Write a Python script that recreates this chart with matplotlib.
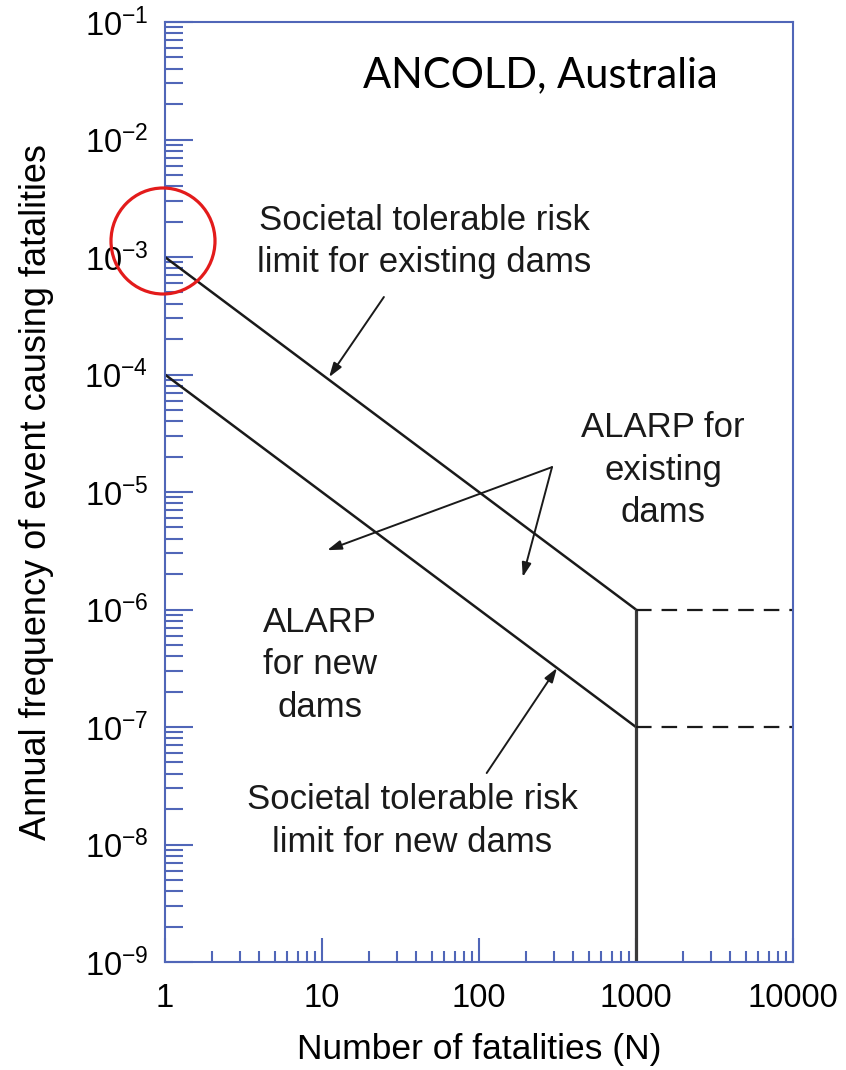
import numpy as np
import matplotlib
matplotlib.use("Agg")
import matplotlib.pyplot as plt
from matplotlib.ticker import LogLocator, FixedLocator, FixedFormatter, NullFormatter
from matplotlib.patches import Ellipse

plt.rcParams['font.family'] = ['Liberation Sans', 'DejaVu Sans']
plt.rcParams['mathtext.fontset'] = 'custom'
plt.rcParams['mathtext.rm'] = 'Liberation Sans'
plt.rcParams['mathtext.it'] = 'Liberation Sans:italic'
plt.rcParams['mathtext.bf'] = 'Liberation Sans:bold'

# ANCOLD societal risk criteria (F-N)
n_line = [1, 1000]
f_existing = [1e-3, 1e-6]
f_new = [1e-4, 1e-7]
n_limit = 1000
f_floor = 1e-9
n_dash = [1000, 10000]

x_ticks = [1, 10, 100, 1000, 10000]
x_ticklabels = ["1", "10", "100", "1000", "10000"]
y_exponents = [-1, -2, -3, -4, -5, -6, -7, -8, -9]

# arrows: (tail, head) in data coords
arrow_existing = ((24.8, 4.57e-4), (11.1, 9.5e-5))
alarp_apex = (292, 1.63e-5)
alarp_heads = [(10.8, 3.2e-6), (190, 1.89e-6)]
arrow_new = ((112, 4.06e-8), (314, 3.18e-7))

axis_blue = '#5066b8'
ink = '#1a1a1a'

fig = plt.figure(figsize=(8.46, 10.70), dpi=100)
ax = fig.add_axes([0.1950, 0.1009, 0.7423, 0.8785])
ax.set_xscale('log')
ax.set_yscale('log')
ax.set_xlim(1, 10000)
ax.set_ylim(1e-9, 1e-1)

ax.plot(n_line, f_existing, color=ink, lw=1.8, solid_capstyle='butt')
ax.plot(n_line, f_new, color=ink, lw=1.8, solid_capstyle='butt')
ax.plot([n_limit, n_limit], [f_floor, f_existing[-1]], color='#3a3a3a', lw=2.3)
ax.plot(n_dash, [f_existing[-1]] * 2, color=ink, lw=1.6, dashes=(7, 4.5))
ax.plot(n_dash, [f_new[-1]] * 2, color=ink, lw=1.6, dashes=(7, 4.5))

aprops = dict(arrowstyle='-|>,head_length=0.85,head_width=0.28', color=ink,
              lw=1.4, shrinkA=0, shrinkB=0, mutation_scale=10)
ax.annotate('', xy=arrow_existing[1], xytext=arrow_existing[0], arrowprops=aprops)
for h in alarp_heads:
    ax.annotate('', xy=h, xytext=alarp_apex, arrowprops=aprops)
ax.annotate('', xy=arrow_new[1], xytext=arrow_new[0], arrowprops=aprops)

# axes styling
for s in ax.spines.values():
    s.set_color(axis_blue)
    s.set_linewidth(1.5)
ax.xaxis.set_major_locator(FixedLocator(x_ticks))
ax.xaxis.set_major_formatter(FixedFormatter(x_ticklabels))
ax.xaxis.set_minor_locator(LogLocator(base=10, subs=np.arange(2, 10), numticks=100))
ax.xaxis.set_minor_formatter(NullFormatter())
ax.yaxis.set_major_locator(FixedLocator([10.0 ** e for e in y_exponents]))
ax.yaxis.set_major_formatter(FixedFormatter([r'$10^{%d}$' % e for e in y_exponents]))
ax.yaxis.set_minor_locator(LogLocator(base=10, subs=np.arange(2, 10), numticks=100))
ax.yaxis.set_minor_formatter(NullFormatter())

ax.tick_params(which='both', direction='in', top=False, right=False,
               color=axis_blue, width=1.5, labelcolor='black')
ax.tick_params(axis='y', which='major', length=20, labelsize=23.5, pad=12)
ax.tick_params(axis='y', which='minor', length=13)
ax.tick_params(axis='x', which='major', length=17, labelsize=23.5, pad=15)
ax.tick_params(axis='x', which='minor', length=8)

ax.set_xlabel("Number of fatalities (N)", fontsize=25.5, labelpad=14)
ax.set_ylabel("Annual frequency of event causing fatalities", fontsize=26, labelpad=22)

txt = dict(transform=ax.transAxes, ha='center', va='center', fontsize=25,
           linespacing=1.35, color='#1a1a1a')
ax.text(0.4124, 0.767, "Societal tolerable risk\nlimit for existing dams", **txt)
ax.text(0.793, 0.5234, "ALARP for\nexisting\ndams", **txt)
ax.text(0.2468, 0.316, "ALARP\nfor new\ndams", **txt)
ax.text(0.3933, 0.150, "Societal tolerable risk\nlimit for new dams", **txt)
ax.text(0.597, 0.9436, "ANCOLD, Australia", transform=ax.transAxes, ha='center',
        va='center', fontsize=30, family=['Lato', 'DejaVu Sans'], color='black')

# highlight ring around the 1e-3 start point
ring = Ellipse((163 / 846, 1 - 241 / 1070), 2 * 52 / 846, 2 * 53 / 1070,
               transform=fig.transFigure, fill=False, edgecolor='#e31b1b', lw=2.3,
               zorder=10)
fig.add_artist(ring)

fig.savefig('out.png', dpi=100)
